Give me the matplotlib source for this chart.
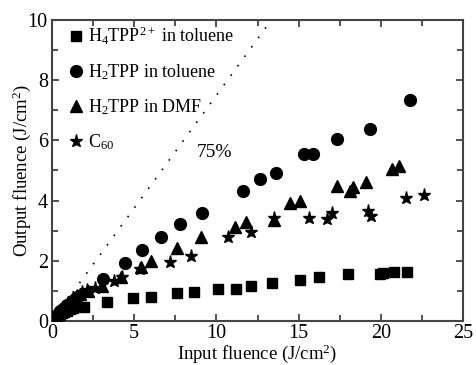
import matplotlib
matplotlib.use("Agg")
import matplotlib.pyplot as plt
from matplotlib.ticker import MultipleLocator

plt.rcParams['font.family'] = ['Liberation Serif', 'DejaVu Serif']
plt.rcParams['mathtext.fontset'] = 'custom'
plt.rcParams['mathtext.rm'] = 'Liberation Serif'
plt.rcParams['mathtext.it'] = 'Liberation Serif:italic'
plt.rcParams['mathtext.bf'] = 'Liberation Serif:bold'
plt.rcParams['mathtext.default'] = 'rm'

# H4TPP2+ in toluene
sq_x = [0.1, 0.2, 0.3, 0.45, 0.6, 0.75, 0.9, 1.1, 1.3, 1.93, 3.35, 4.94, 6.04, 7.6, 8.66,
        10.1, 11.2, 12.07, 13.4, 15.08, 16.24, 18.0, 19.96, 20.1, 20.77, 21.6]
sq_y = [0.06, 0.1, 0.15, 0.2, 0.25, 0.3, 0.33, 0.38, 0.42, 0.45, 0.64, 0.76, 0.80, 0.92, 0.97,
        1.05, 1.05, 1.17, 1.25, 1.36, 1.45, 1.55, 1.56, 1.58, 1.61, 1.61]

# H2TPP in toluene
ci_x = [0.15, 0.3, 0.5, 0.7, 0.9, 1.2, 1.5, 3.09, 4.41, 5.45, 6.6, 7.8, 9.13, 11.6, 12.64,
        13.6, 15.3, 15.9, 17.3, 19.35, 21.75]
ci_y = [0.1, 0.2, 0.32, 0.42, 0.52, 0.66, 0.8, 1.38, 1.92, 2.34, 2.80, 3.22, 3.58, 4.32, 4.70,
        4.93, 5.54, 5.55, 6.04, 6.39, 7.34]

# H2TPP in DMF
tr_x = [0.2, 0.4, 0.6, 0.8, 1.0, 1.3, 1.7, 2.2, 3.05, 4.2, 5.4, 6.04, 7.6, 9.07, 11.1, 11.77,
        13.5, 14.47, 15.1, 17.3, 18.1, 18.3, 19.1, 20.7, 21.1]
tr_y = [0.12, 0.24, 0.36, 0.47, 0.56, 0.7, 0.88, 1.0, 1.16, 1.47, 1.80, 2.0, 2.41, 2.78, 3.13, 3.3,
        3.36, 3.93, 4.0, 4.48, 4.33, 4.46, 4.6, 5.04, 5.16]

# C60
st_x = [0.25, 0.5, 0.75, 1.0, 1.25, 1.5, 1.8, 2.1, 2.6, 3.76, 4.27, 5.38, 7.2, 8.45, 10.7,
        12.13, 13.5, 15.6, 16.75, 17.0, 19.2, 19.4, 21.5, 22.6]
st_y = [0.17, 0.33, 0.47, 0.6, 0.72, 0.82, 0.95, 1.03, 1.1, 1.34, 1.47, 1.72, 1.97, 2.14, 2.80,
        2.95, 3.43, 3.41, 3.38, 3.6, 3.66, 3.49, 4.08, 4.18]

line_pct = 0.75

fig = plt.figure(figsize=(4.77, 3.65), dpi=100)
ax = fig.add_axes([0.109, 0.121, 0.862, 0.824])

ax.plot([0, 10 / line_pct], [0, 10], linestyle=(0, (1, 6)), color='black', lw=1.2)
ax.text(9.9, 5.6, '75%', fontsize=14, ha='center', va='center')

ax.plot(sq_x, sq_y, 's', color='black', ms=7.5, label='H$_4$TPP$^{2+}$ in toluene', zorder=3)
ax.plot(ci_x, ci_y, 'o', color='black', ms=8.5, label='H$_2$TPP in toluene', zorder=3)
ax.plot(tr_x, tr_y, '^', color='black', ms=9, label='H$_2$TPP in DMF', zorder=3)
ax.plot(st_x, st_y, '*', color='black', ms=9.5, label='C$_{60}$', zorder=3)

ax.set_xlim(0, 25)
ax.set_ylim(0, 10)
ax.xaxis.set_major_locator(MultipleLocator(5))
ax.xaxis.set_minor_locator(MultipleLocator(2.5))
ax.yaxis.set_major_locator(MultipleLocator(2))
ax.yaxis.set_minor_locator(MultipleLocator(1))
ax.tick_params(which='both', direction='in', top=True, right=True, labelsize=14.5, colors='#333333',
               labelcolor='black', width=1.2)
ax.tick_params(which='major', length=5, pad=3)
ax.tick_params(axis='x', which='major', pad=2)
ax.tick_params(which='minor', length=4)
for s in ax.spines.values():
    s.set_linewidth(1.5)
    s.set_color('#444444')

ax.set_xlabel('Input fluence (J/cm$^2$)', fontsize=13.5)
ax.xaxis.set_label_coords(0.5, -0.1465, transform=ax.transAxes)
ax.xaxis.label.set_va('bottom')
ax.set_ylabel('Output fluence (J/cm$^2$)', fontsize=13.5)
ax.yaxis.set_label_coords(-0.047, 0.5, transform=ax.transAxes)

leg = ax.legend(loc='upper left', frameon=False, fontsize=13, handlelength=0.6, handletextpad=0.35,
                labelspacing=0.85, borderaxespad=0.0, borderpad=0.0,
                bbox_to_anchor=(0.045, 0.985))

fig.savefig('out.png', dpi=100)
